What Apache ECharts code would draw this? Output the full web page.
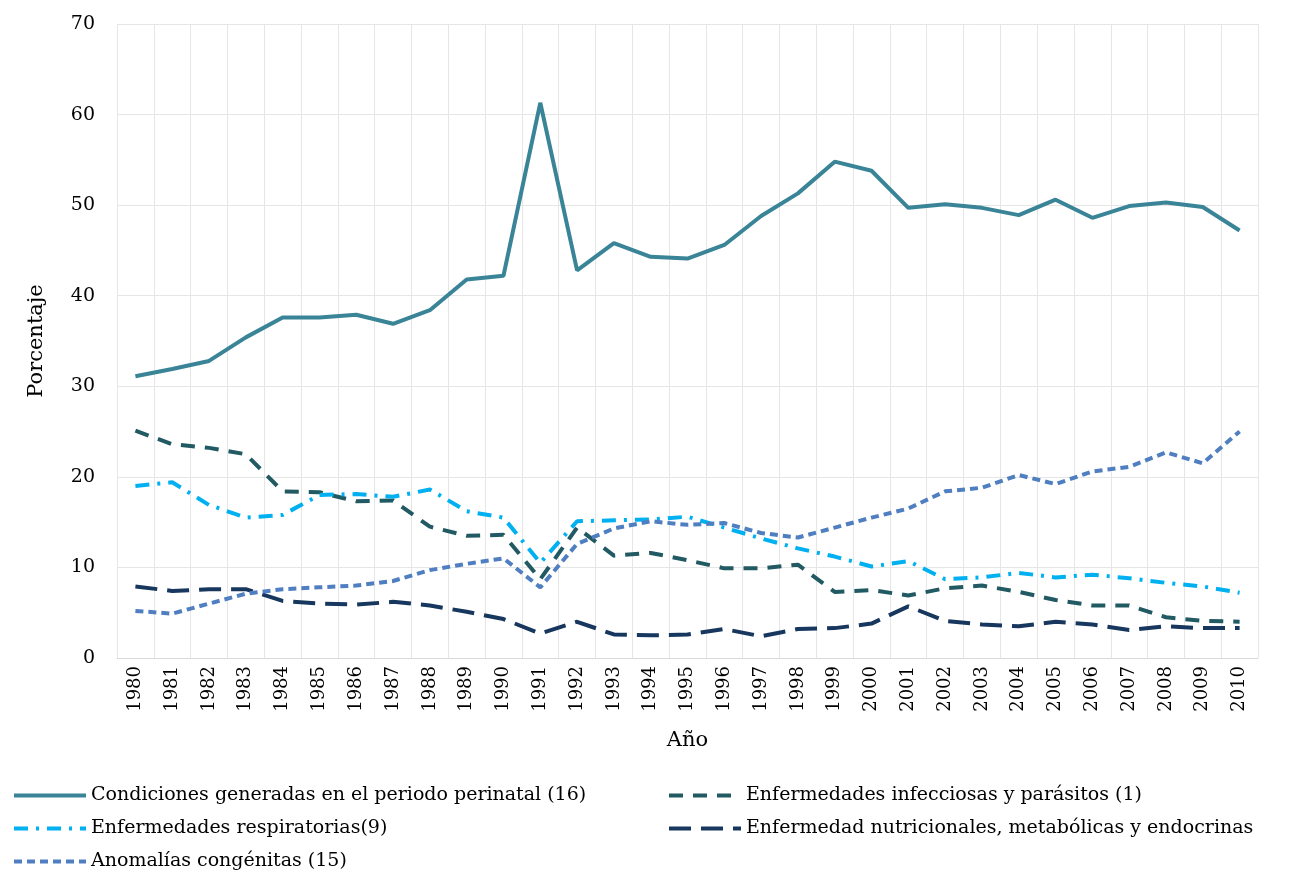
<!DOCTYPE html>
<html><head><meta charset="utf-8">
<script src="https://cdn.jsdelivr.net/npm/echarts@6/dist/echarts.min.js"></script>
<style>html,body{margin:0;padding:0;background:#fff}#c{width:1308px;height:873px}</style>
</head><body><div id="c"></div>
<script>
const years = ['1980','1981','1982','1983','1984','1985','1986','1987','1988','1989','1990','1991','1992','1993','1994','1995','1996','1997','1998','1999','2000','2001','2002','2003','2004','2005','2006','2007','2008','2009','2010'];
const perinatal = [31.1,31.9,32.8,35.4,37.6,37.6,37.9,36.9,38.4,41.8,42.2,61.3,42.8,45.8,44.3,44.1,45.6,48.8,51.3,54.8,53.8,49.7,50.1,49.7,48.9,50.6,48.6,49.9,50.3,49.8,47.2];
const infecciosas = [25.1,23.6,23.2,22.5,18.4,18.3,17.3,17.4,14.5,13.5,13.6,8.7,14.4,11.3,11.6,10.8,9.9,9.9,10.3,7.3,7.5,6.9,7.7,8.0,7.3,6.4,5.8,5.8,4.5,4.1,4.0];
const respiratorias = [19.0,19.4,16.9,15.5,15.8,18.0,18.1,17.8,18.6,16.2,15.5,10.5,15.1,15.2,15.3,15.6,14.4,13.2,12.1,11.2,10.1,10.7,8.7,8.9,9.4,8.9,9.2,8.8,8.3,7.9,7.2];
const nutricionales = [7.9,7.4,7.6,7.6,6.3,6.0,5.9,6.2,5.8,5.1,4.3,2.7,4.0,2.6,2.5,2.6,3.2,2.4,3.2,3.3,3.8,5.7,4.1,3.7,3.5,4.0,3.7,3.1,3.5,3.3,3.3];
const anomalias = [5.2,4.9,6.0,7.1,7.6,7.8,8.0,8.5,9.7,10.4,11.0,7.8,12.6,14.3,15.1,14.7,14.9,13.8,13.3,14.4,15.5,16.5,18.4,18.8,20.2,19.2,20.6,21.1,22.7,21.5,25.0];
const names = ['Condiciones generadas en el periodo perinatal (16)','Enfermedades infecciosas y parásitos (1)','Enfermedades respiratorias(9)','Enfermedad nutricionales, metabólicas y endocrinas','Anomalías congénitas (15)'];
const F = "'DejaVu Serif','Liberation Serif',serif";
function s(name,data,color,type){return {name,type:'line',data,symbol:'none',lineStyle:{color,width:4,type},itemStyle:{color}};}
const legendBase = {orient:'vertical',height:100,itemWidth:72,itemHeight:14,itemGap:10,padding:0,
  itemStyle:{opacity:0},lineStyle:{width:4},
  textStyle:{fontFamily:F,fontSize:19,color:'#000',lineHeight:23}};
const chart = echarts.init(document.getElementById('c'));
chart.setOption({
  animation:false,
  grid:{left:117,right:50,top:24,bottom:215},
  legend:[
    Object.assign({},legendBase,{left:12,top:784,data:[names[0],names[2],names[4]]}),
    Object.assign({},legendBase,{left:667,top:784,data:[names[1],names[3]]})
  ],
  xAxis:{type:'category',data:years,boundaryGap:true,name:'Año',nameLocation:'middle',nameGap:72,
    nameTextStyle:{fontFamily:F,fontSize:21,color:'#000'},
    axisLabel:{rotate:90,fontFamily:F,fontSize:18,color:'#000',interval:0},
    axisTick:{show:false},axisLine:{lineStyle:{color:'#d9d9d9'}},
    splitLine:{show:true,interval:0,lineStyle:{color:'#e6e6e6'}}},
  yAxis:{type:'value',min:0,max:70,interval:10,name:'Porcentaje',nameLocation:'middle',nameGap:70,
    nameTextStyle:{fontFamily:F,fontSize:21,color:'#000'},
    axisLabel:{fontFamily:F,fontSize:19,color:'#000',margin:22},
    splitLine:{lineStyle:{color:'#e6e6e6'}}},
  series:[
    s(names[0],perinatal,'#3a8497','solid'),
    s(names[1],infecciosas,'#215a62',[14,10]),
    s(names[2],respiratorias,'#00b0f0',[14,8,3,8]),
    s(names[3],nutricionales,'#17375e',[22,10]),
    s(names[4],anomalias,'#4f7fc0',[8,5])
  ]
});
</script></body></html>
